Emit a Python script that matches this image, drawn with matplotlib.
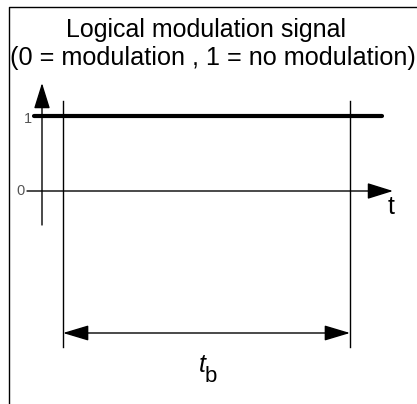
import matplotlib
matplotlib.use('Agg')
import matplotlib.pyplot as plt

# logical modulation signal: constant "1" (no modulation) over the whole window
signal_t = [-0.10, 1.11]        # in units of t_b
signal_level = [1, 1]
level_ticks = [0, 1]
tick_labels = ['0', '1']
window = [0.0, 1.0]             # start / end of t_b

title_lines = ['Logical modulation signal',
               '(0 = modulation , 1 = no modulation)']

plt.rcParams['font.family'] = ['Liberation Sans', 'DejaVu Sans']

W, H = 417, 404
fig = plt.figure(figsize=(W / 100, H / 100), dpi=100)
ax = fig.add_axes([0, 0, 1, 1])
ax.axis('off')

# data -> pixel scale: t=0 at x=63px, t=1 at x=350px; level 0 at y=191px, 1 at y=116px
px_t = 287.0
px_lvl = 75.0
x0, y0 = 63.0, 191.0
ax.set_xlim(-x0 / px_t, (W - x0) / px_t)
ax.set_ylim((y0 - H) / px_lvl, y0 / px_lvl)

def tx(px):
    return (px - x0) / px_t

def ly(py):
    return (y0 - py) / px_lvl

# frame (left + top only)
ax.plot([9 / W, 9 / W, 1], [0, 1 - 7 / H, 1 - 7 / H], color='black', lw=1.0,
        transform=ax.transAxes, clip_on=False)

arrow = dict(arrowstyle='-|>,head_length=16,head_width=5', mutation_scale=1,
             color='black', lw=1.0, shrinkA=0, shrinkB=0)

# y axis with arrow
ax.annotate('', xy=(tx(42), ly(83)), xytext=(tx(42), ly(225)), arrowprops=arrow)
# x axis with arrow
ax.annotate('', xy=(tx(393), 0), xytext=(tx(27), 0), arrowprops=arrow)
ax.text(tx(388), ly(214), 't', fontsize=18, ha='left', va='baseline')

# level tick labels
ax.text(tx(25), level_ticks[0], tick_labels[0], fontsize=10.5, color='#555555',
        ha='right', va='center')
ax.text(tx(32), level_ticks[1] - 0.04, tick_labels[1], fontsize=10.5, color='#555555',
        ha='right', va='center')

# the signal itself
ax.plot(signal_t, signal_level, color='black', lw=3.0, solid_capstyle='round')

# window boundaries
for w in window:
    ax.plot([w, w], [ly(101), ly(347)], color='black', lw=1.0)

# t_b dimension arrow
dim = dict(arrowstyle='<|-|>,head_length=16,head_width=4.8', mutation_scale=1,
           color='black', lw=1.0, shrinkA=0, shrinkB=0)
ax.annotate('', xy=(window[1], ly(333)), xytext=(window[0], ly(333)), arrowprops=dim)
ax.text(tx(206), ly(372), 't', fontsize=18, style='italic', ha='right', va='baseline')
ax.text(tx(205), ly(382), 'b', fontsize=16, ha='left', va='baseline')

# title
ax.text(tx(206), ly(37), title_lines[0], fontsize=18, ha='center', va='baseline')
ax.text(tx(213), ly(65), title_lines[1], fontsize=18.2, ha='center', va='baseline')

fig.savefig('out.png', dpi=100)
